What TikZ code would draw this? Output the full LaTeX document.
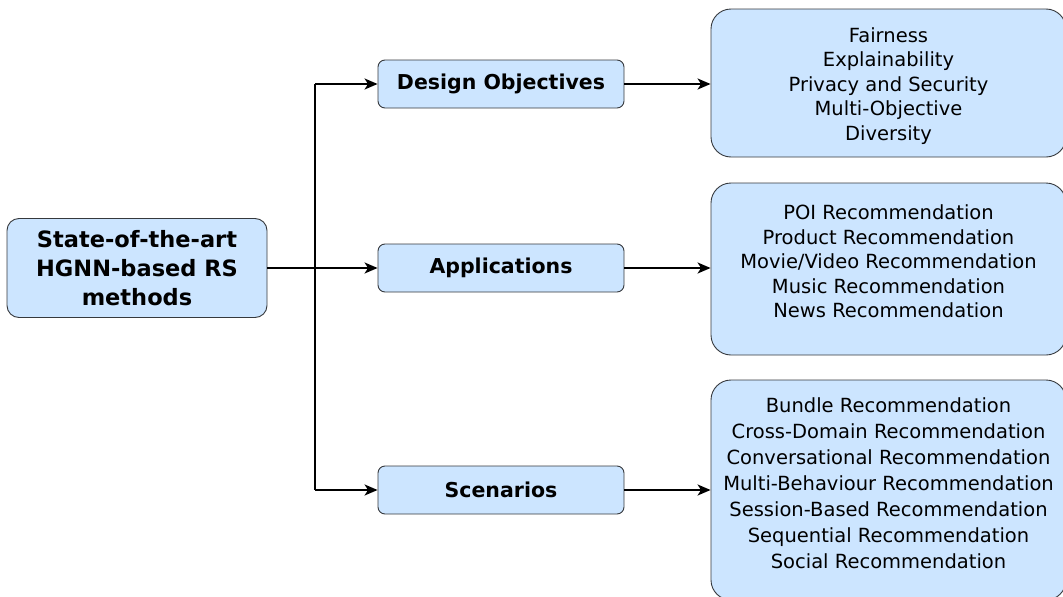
\documentclass[tikz,border=0pt]{standalone}
\usepackage{fontspec}
\setmainfont{DejaVu Sans}
\usetikzlibrary{arrows.meta}
\definecolor{boxfill}{HTML}{CCE5FF}
\definecolor{boxline}{HTML}{36393D}
\begin{document}
\begin{tikzpicture}[x=1pt,y=-1pt,
  box/.style={draw=boxline, fill=boxfill, line width=0.9pt, inner sep=0pt},
  rootbox/.style={box, rounded corners=12pt, minimum width=260pt, minimum height=99pt,
    align=center, font=\fontsize{22.5}{29}\bfseries\selectfont},
  midbox/.style={box, rounded corners=7pt, minimum width=246pt, minimum height=48pt,
    font=\fontsize{20.5}{24}\bfseries\selectfont},
  listbox/.style={box, rounded corners=20pt, minimum width=355pt},
  listtext/.style={align=center, inner sep=0pt, font=\fontsize{19.5}{24.5}\selectfont},
  link/.style={line width=1.8pt, -{Stealth[length=13pt, width=11pt, inset=3.5pt]}},
  joint/.style={line width=1.8pt}
]
\useasboundingbox (0,0) rectangle (1063,597);

% root
\node[rootbox] (root) at (137,268) {State-of-the-art\\HGNN-based RS\\methods};

% categories
\node[midbox] (obj) at (501,84) {Design Objectives};
\node[midbox] (app) at (501,268) {Applications};
\node[midbox] (sce) at (501,490) {Scenarios};

% detail boxes
\node[listbox, minimum height=148pt] (objlist) at (888.5,83) {};
\node[listbox, minimum height=172pt] (applist) at (888.5,269) {};
\node[listbox, minimum height=220pt] (scelist) at (888.5,490) {};

\node[listtext] (objtxt) at ([yshift=-3pt]objlist.center)
  {Fairness\\Explainability\\Privacy and Security\\Multi-Objective\\Diversity};
\node[listtext] (apptxt) at ([yshift=7.5pt]applist.center)
  {POI Recommendation\\Product Recommendation\\Movie/Video Recommendation\\Music Recommendation\\News Recommendation};
\node[listtext, font=\fontsize{19.5}{26}\selectfont] (scetxt) at ([yshift=7pt]scelist.center)
  {Bundle Recommendation\\Cross-Domain Recommendation\\Conversational Recommendation\\Multi-Behaviour Recommendation\\Session-Based Recommendation\\Sequential Recommendation\\Social Recommendation};

% connectors
\coordinate (split) at (315,268);
\draw[link] (root.east) -- (app.west);
\draw[joint] (split |- obj.west) -- (split |- sce.west);
\draw[link] (split |- obj.west) -- (obj.west);
\draw[link] (split |- sce.west) -- (sce.west);

\draw[link] (obj.east) -- (obj.east -| objlist.west);
\draw[link] (app.east) -- (app.east -| applist.west);
\draw[link] (sce.east) -- (sce.east -| scelist.west);
\end{tikzpicture}
\end{document}
